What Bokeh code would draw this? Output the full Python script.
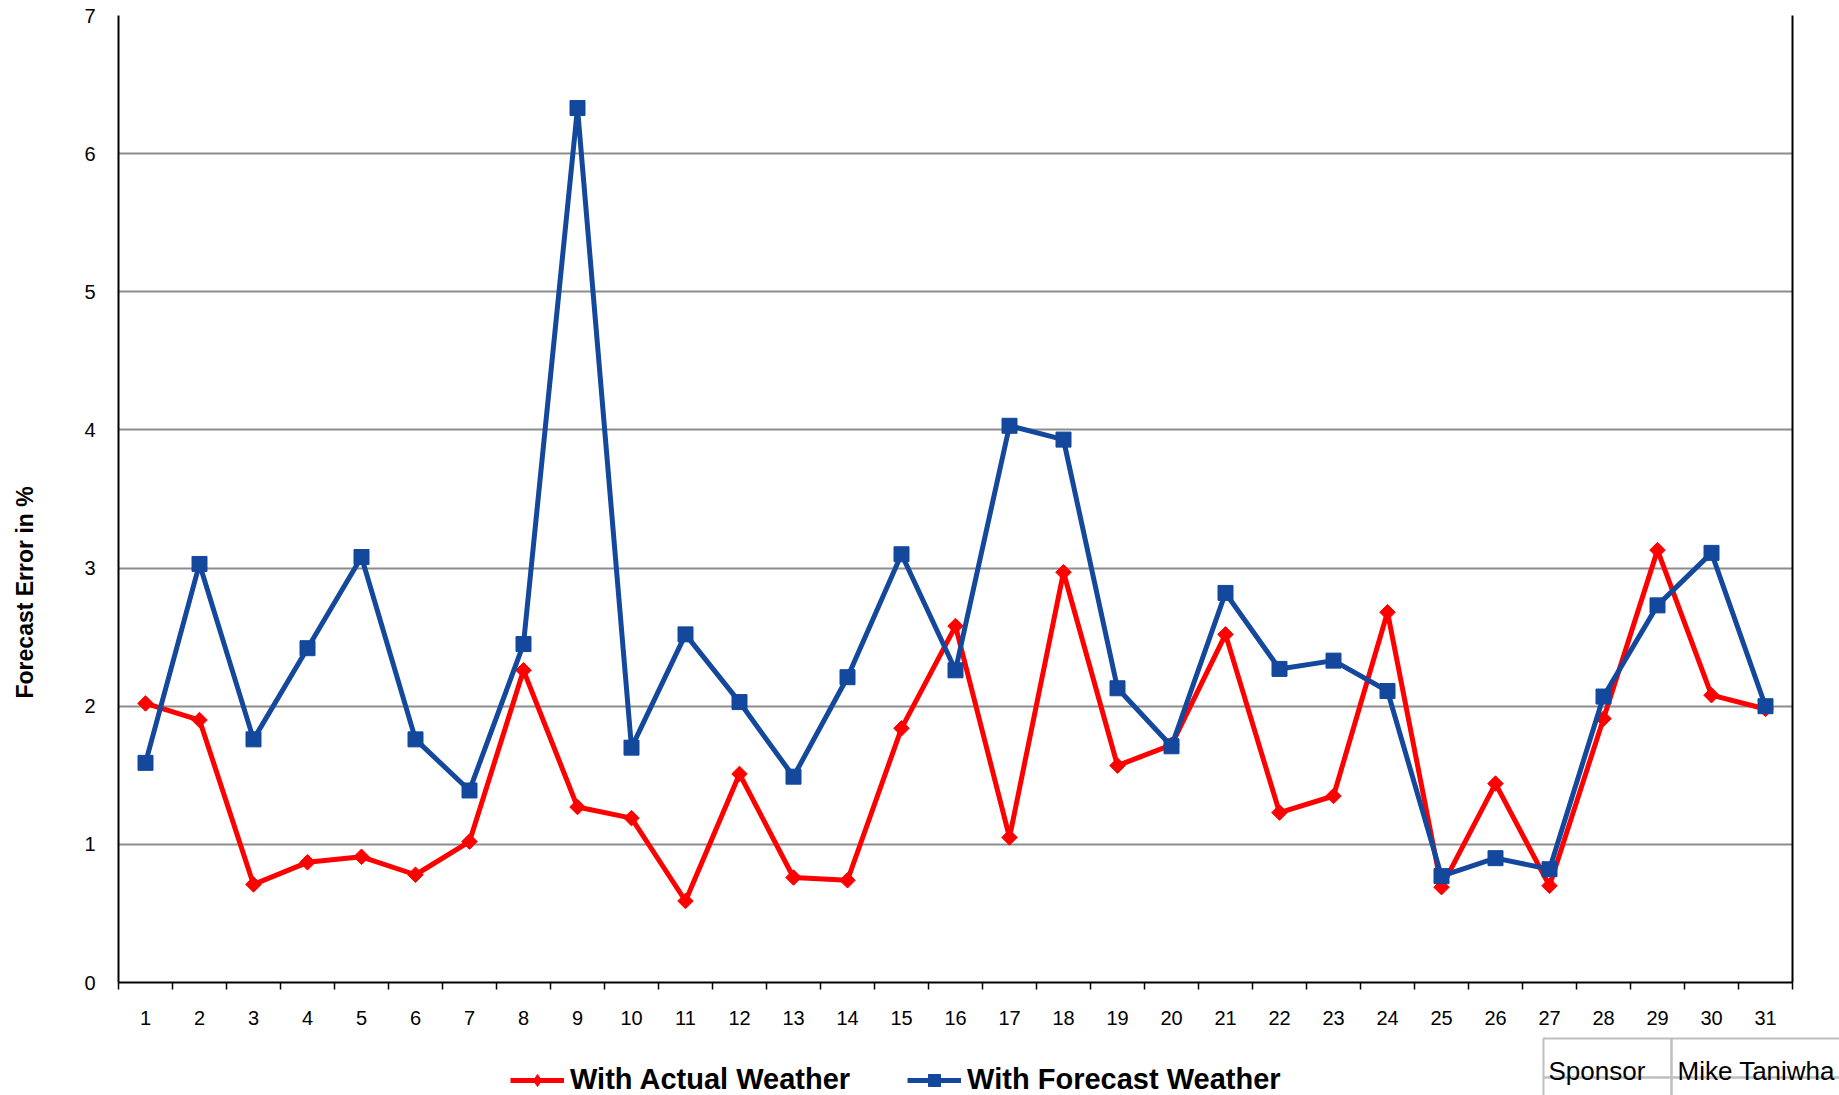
from bokeh.plotting import figure
from bokeh.models import (FixedTicker, Legend, LegendItem, Range1d, LinearAxis, Title)
from bokeh.layouts import column
from bokeh.embed import file_html
from bokeh.resources import INLINE
from bokeh.core.properties import value

days = list(range(1, 32))
actual_weather = [2.02, 1.90, 0.71, 0.87, 0.91, 0.78, 1.02, 2.26, 1.27, 1.19,
                  0.59, 1.51, 0.76, 0.74, 1.84, 2.58, 1.05, 2.97, 1.57, 1.72,
                  2.52, 1.23, 1.35, 2.68, 0.69, 1.44, 0.70, 1.91, 3.13, 2.08, 1.98]
forecast_weather = [1.59, 3.03, 1.76, 2.42, 3.08, 1.76, 1.39, 2.45, 6.33, 1.70,
                    2.52, 2.03, 1.49, 2.21, 3.10, 2.26, 4.03, 3.93, 2.13, 1.71,
                    2.82, 2.27, 2.33, 2.11, 0.77, 0.90, 0.82, 2.07, 2.73, 3.11, 2.00]
y_ticks = [0, 1, 2, 3, 4, 5, 6, 7]
table_left = ["Sponsor", "Contact"]
table_right = ["Mike Taniwha", "Steve W"]

RED = "#FF0000"
BLUE = "#13489C"
FONT = "Liberation Sans"

W = 1839
H_MAIN = 1035
H_STRIP = 60

p = figure(width=W, height=H_MAIN, output_backend="svg", toolbar_location=None,
           x_range=Range1d(0.5, 31.5), y_range=Range1d(0, 7),
           min_border_left=118, min_border_top=15, min_border_right=47,
           min_border_bottom=H_MAIN - 982)
p.frame_align = False
p.background_fill_color = "white"
p.border_fill_color = "white"
p.outline_line_color = None

# x axis: labels at day centres, tick marks at category boundaries
p.xaxis.ticker = FixedTicker(ticks=days, minor_ticks=[d + 0.5 for d in range(0, 32)])
p.xaxis.major_tick_out = 0
p.xaxis.major_tick_in = 0
p.xaxis.minor_tick_out = 7
p.xaxis.minor_tick_in = 0
p.xaxis.minor_tick_line_color = "black"
p.xaxis.minor_tick_line_width = 1.5
p.xaxis.axis_line_color = "black"
p.xaxis.axis_line_width = 2
p.xaxis.major_label_standoff = 21
p.xaxis.major_label_text_font = FONT
p.xaxis.major_label_text_font_size = "20px"
p.xaxis.major_label_text_color = "black"
p.xgrid.visible = False

p.yaxis.ticker = FixedTicker(ticks=y_ticks)
p.yaxis.major_tick_out = 0
p.yaxis.major_tick_in = 0
p.yaxis.minor_tick_line_color = None
p.yaxis.axis_line_color = "black"
p.yaxis.axis_line_width = 2
p.yaxis.major_label_standoff = 23
p.yaxis.major_label_text_font = FONT
p.yaxis.major_label_text_font_size = "20px"
p.yaxis.major_label_text_color = "black"
# blank axis label only reserves room, pushing the real title further left
p.yaxis.axis_label = " "
p.yaxis.axis_label_text_font_size = "10px"
p.yaxis.axis_label_standoff = 30
p.ygrid.ticker = FixedTicker(ticks=y_ticks)
p.ygrid.grid_line_color = "#8C8C8C"
p.ygrid.grid_line_width = 2

# right border of the plot area
right_axis = LinearAxis(ticker=FixedTicker(ticks=[]), axis_line_color="black",
                        axis_line_width=2, major_tick_out=0, major_tick_in=0,
                        minor_tick_out=0, minor_tick_in=0)
p.add_layout(right_axis, "right")

# y axis title (placed lower than centre, as in the original)
p.add_layout(Title(text="Forecast Error in %", align="left", offset=284,
                   text_font=FONT, text_font_style="bold", text_font_size="23px",
                   text_color="black", standoff=0), "left")

r1 = p.line(days, actual_weather, line_color=RED, line_width=5)
m1 = p.scatter(days, actual_weather, marker="square", angle=0.785398, size=11,
               fill_color=RED, line_color=RED)
r2 = p.line(days, forecast_weather, line_color=BLUE, line_width=5)
m2 = p.scatter(days, forecast_weather, marker="square", size=15,
               fill_color=BLUE, line_color=BLUE)

# bottom strip: legend and the info table (page coordinates, y downward)
s = figure(width=W, height=H_STRIP, output_backend="svg", toolbar_location=None,
           x_range=Range1d(0, W), y_range=Range1d(H_MAIN + H_STRIP, H_MAIN),
           x_axis_type=None, y_axis_type=None,
           min_border_left=0, min_border_right=0, min_border_top=0, min_border_bottom=0)
s.frame_align = False
s.outline_line_color = None
s.background_fill_color = "white"
s.border_fill_color = "white"
s.xgrid.visible = False
s.ygrid.visible = False

# legend keys: the same series, which fall outside this strip's visible range
lr1 = s.line(days, actual_weather, line_color=RED, line_width=5)
lm1 = s.scatter(days, actual_weather, marker="diamond", size=16,
                fill_color=RED, line_color=RED)
lr2 = s.line(days, forecast_weather, line_color=BLUE, line_width=5)
lm2 = s.scatter(days, forecast_weather, marker="square", size=15,
                fill_color=BLUE, line_color=BLUE)

legend = Legend(items=[LegendItem(label="With Actual Weather", renderers=[lr1, lm1]),
                       LegendItem(label="With Forecast Weather", renderers=[lr2, lm2])],
                orientation="horizontal", location=(510, -1),
                glyph_width=54, glyph_height=30, label_standoff=6, spacing=57,
                padding=0, margin=0, border_line_color=None,
                background_fill_alpha=0,
                label_text_font=FONT,
                label_text_font_style="bold", label_text_font_size="29px",
                label_text_color="black")
s.add_layout(legend)

cell_left = [1543, 1671, 1543, 1671]
cell_right = [1671, 1900, 1671, 1900]
cell_top = [1038, 1038, 1077, 1077]
cell_bottom = [1077, 1077, 1116, 1116]
s.quad(left=cell_left, right=cell_right, top=cell_top, bottom=cell_bottom,
       fill_color=None, line_color="#BFBFBF", line_width=2)
s.text(x=[1548, 1548, 1677, 1677], y=[1070, 1109, 1070, 1109],
       text=table_left + table_right, text_font=value(FONT), text_font_size="26px",
       text_baseline="alphabetic", text_color="black")

open("out.html", "w").write(file_html(column(p, s, spacing=0), INLINE))
